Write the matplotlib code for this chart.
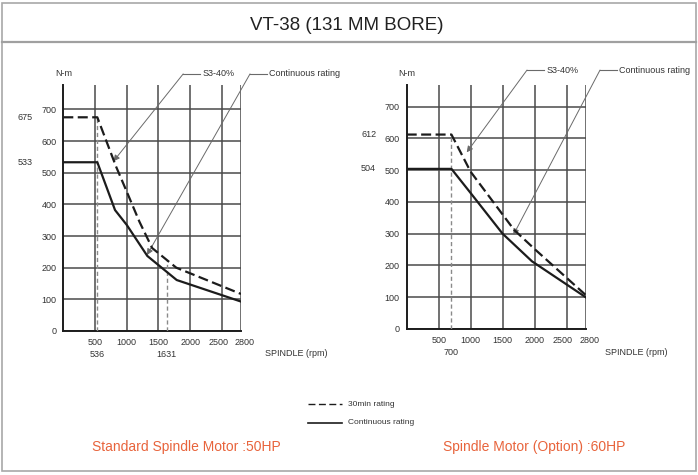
import numpy as np
import matplotlib.pyplot as plt
from matplotlib.lines import Line2D
from matplotlib.patches import Rectangle
from matplotlib.transforms import ScaledTranslation

plt.rcParams['font.family'] = ['Liberation Sans', 'DejaVu Sans']

# data
rpm_ticks = [500, 1000, 1500, 2000, 2500, 2800]
nm_ticks = [0, 100, 200, 300, 400, 500, 600, 700]

std_rpm_30 = [0, 536, 830, 1000, 1200, 1400, 1780, 2800]
std_nm_30 = [675, 675, 520, 440, 345, 262, 200, 117]
std_rpm_cont = [0, 536, 815, 1000, 1324, 1787, 2800]
std_nm_cont = [533, 533, 382, 335, 237, 161, 93]
std_marks_rpm = [536, 1631]
std_marks_nm = [675, 533]

opt_rpm_30 = [0, 700, 1000, 1680, 2010, 2800]
opt_nm_30 = [612, 612, 495, 312, 250, 107]
opt_rpm_cont = [0, 700, 1000, 1500, 1960, 2800]
opt_nm_cont = [504, 504, 428, 300, 213, 100]
opt_marks_rpm = [700]
opt_marks_nm = [612, 504]

W, H = 698, 475
fig = plt.figure(figsize=(W / 100, H / 100), dpi=100)

# frame + title band
fig.patches.append(Rectangle((2 / W, 4 / H), 694 / W, 468 / H, transform=fig.transFigure,
                             fill=False, edgecolor='#a8a8a8', lw=1.2))
fig.add_artist(Line2D([2 / W, 696 / W], [1 - 42 / H, 1 - 42 / H], color='#a0a0a0', lw=1.6))
fig.text(347 / W, 1 - 25 / H, 'VT-38 (131 MM BORE)', ha='center', va='center',
         fontsize=13.5, color='#222222')

ink = '#1c1c1c'
grid = '#4a4a4a'
lead = '#6a6a6a'
txt = '#333333'


def panel(rect, rpm30, nm30, rpmc, nmc, marks_rpm, marks_nm, ytop, xlab_dx, xlab_dy,
          s3_start, s3_tip, ct_start, ct_tip):
    ax = fig.add_axes(rect)
    ax.set_xlim(0, 2800)
    ax.set_ylim(0, ytop)
    ax.set_xticks(rpm_ticks)
    ax.set_yticks(nm_ticks)
    ax.grid(True, color=grid, lw=1.1)
    ax.set_axisbelow(True)
    for s in ['top', 'right']:
        ax.spines[s].set_visible(False)
    for s in ['left', 'bottom']:
        ax.spines[s].set_color(ink)
        ax.spines[s].set_linewidth(1.4)
    ax.tick_params(length=0, pad=5, labelsize=6.5, colors=txt)
    # nudge the two crowded labels at the right end apart
    labels = ax.get_xticklabels()
    for lab, dx in [(labels[-2], -2.5), (labels[-1], 2.5)]:
        lab.set_transform(lab.get_transform() + ScaledTranslation(dx / 72, 0, fig.dpi_scale_trans))

    # drop lines at base / corner speed
    for m in marks_rpm:
        top = np.interp(m, rpm30, nm30)
        ax.plot([m, m], [0, top], color='#8a8a8a', lw=1.0, ls=(0, (3, 2)), zorder=3)
        ax.annotate(str(m), xy=(m, 0), xycoords=('data', 'axes fraction'), xytext=(0, -14),
                    textcoords='offset points', ha='center', va='top', fontsize=6.5, color=txt)
    for v in marks_nm:
        ax.annotate(str(v), xy=(0, v), xycoords=('axes fraction', 'data'), xytext=(-22, 0),
                    textcoords='offset points', ha='right', va='center', fontsize=6.5, color=txt)

    ax.plot(rpmc, nmc, color=ink, lw=1.6, zorder=4)
    ax.plot(rpm30, nm30, color=ink, lw=1.6, ls=(0, (4.5, 2)), zorder=4)

    ax.annotate('N-m', xy=(0, 1), xycoords='axes fraction', xytext=(0, 8), textcoords='offset points',
                ha='center', va='center', fontsize=6.5, color=txt)
    ax.annotate('SPINDLE (rpm)', xy=(1, 0), xycoords='axes fraction', xytext=(xlab_dx, xlab_dy),
                textcoords='offset points', ha='left', va='center', fontsize=6.5, color=txt)

    # leader arrows
    for start, tip, label in [(s3_start, s3_tip, 'S3-40%'), (ct_start, ct_tip, 'Continuous rating')]:
        ax.annotate('', xy=tip, xytext=start, annotation_clip=False,
                    arrowprops=dict(arrowstyle='-|>', color=lead, lw=0.7, mutation_scale=9,
                                    shrinkA=0, shrinkB=0))
        ax.plot([start[0], start[0] + 260], [start[1], start[1]], color=lead, lw=0.8, clip_on=False)
        ax.text(start[0] + 300, start[1], label, ha='left', va='center', fontsize=6.5, color=txt)
    return ax


panel([63.3 / W, 1 - 331 / H, 177.7 / W, 246 / H], std_rpm_30, std_nm_30, std_rpm_cont, std_nm_cont,
      std_marks_rpm, std_marks_nm, 777, 17, -16,
      (1889, 812), (790, 536), (2942, 812), (1319, 240))
panel([406.7 / W, 1 - 329 / H, 179 / W, 244 / H], opt_rpm_30, opt_nm_30, opt_rpm_cont, opt_nm_cont,
      opt_marks_rpm, opt_marks_nm, 768, 14, -17,
      (1882, 815), (939, 556), (3024, 815), (1668, 296))

# legend
fig.add_artist(Line2D([308 / W, 342 / W], [1 - 404 / H, 1 - 404 / H], color=ink, lw=1.0, ls=(0, (5, 2.5))))
fig.add_artist(Line2D([308 / W, 342 / W], [1 - 423 / H, 1 - 423 / H], color=ink, lw=1.2))
fig.text(348 / W, 1 - 404 / H, '30min rating', ha='left', va='center', fontsize=6, color=txt)
fig.text(348 / W, 1 - 423 / H, 'Continuous rating', ha='left', va='center', fontsize=6, color=txt)

# captions
cap = '#e8643c'
fig.text(186 / W, 1 - 447 / H, 'Standard Spindle Motor :50HP', ha='center', va='center',
         fontsize=10, color=cap)
fig.text(534 / W, 1 - 447 / H, 'Spindle Motor (Option) :60HP', ha='center', va='center',
         fontsize=10, color=cap)

plt.savefig('out.png', dpi=100)
